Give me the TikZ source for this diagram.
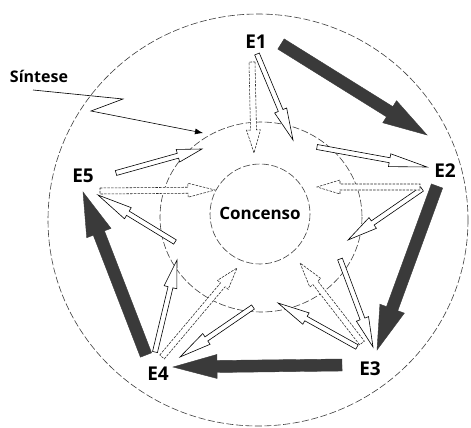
\documentclass[tikz,border=0pt]{standalone}
\usepackage{fontspec}
\setmainfont{Open Sans}
\usetikzlibrary{calc,arrows.meta}
\definecolor{dark}{HTML}{3A3A3A}
\tikzset{
 lbl/.style={font=\bfseries\fontsize{19}{20}\selectfont, inner sep=0pt},
 bigarrow/.style={fill=dark, draw=dark, line width=0.4pt, line join=miter},
 openarrow/.style={fill=white, draw=black, line width=0.6pt},
 dasharrow/.style={fill=white, draw=black!85, line width=0.55pt, dash pattern=on 2.5pt off 1.2pt},
 ring/.style={draw=black!75, line width=0.6pt, dash pattern=on 7pt off 2.5pt},
}
% #1 start, #2 tip, #3 shaft half width, #4 head half width, #5 head length, #6 style
\newcommand{\blockarr}[6]{%
 \coordinate (ba-h) at ($(#2)!#5!(#1)$);
 \draw[#6] ($(#1)!#3!90:(#2)$) -- ($(ba-h)!#3!90:(#2)$) -- ($(ba-h)!#4!90:(#2)$) -- (#2)
   -- ($(ba-h)!#4!-90:(#2)$) -- ($(ba-h)!#3!-90:(#2)$) -- ($(#1)!#3!-90:(#2)$) -- cycle;}
\begin{document}
\begin{tikzpicture}[x=1pt,y=-1pt]
\useasboundingbox[fill=white] (0,0) rectangle (471,428);
% circles
\draw[ring] (258,220) ellipse [x radius=210, y radius=206];
\draw[ring] (261,217) ellipse [x radius=101, y radius=95];
\draw[ring] (260,214) circle [radius=50];
% labels
\node[lbl] (e1) at (256,42) {E1};
\node[lbl] (e2) at (445,171) {E2};
\node[lbl] (e3) at (370,369) {E3};
\node[lbl] (e4) at (158,374) {E4};
\node[lbl] (e5) at (83,176) {E5};
\node[font=\bfseries\fontsize{17}{18}\selectfont, inner sep=0pt] (c) at (260,213) {Concenso};
\node[font=\bfseries\fontsize{16}{18}\selectfont, inner sep=0pt] (s) at (39,76) {Síntese};
% big arrows
\coordinate (b1s) at (281,44); \coordinate (b1e) at (427,135);
\coordinate (b2s) at (437,186); \coordinate (b2e) at (377,350);
\coordinate (b3s) at (342,365); \coordinate (b3e) at (173,367);
\coordinate (b4s) at (146,355); \coordinate (b4e) at (83,192);
\blockarr{b1s}{b1e}{6pt}{13pt}{44pt}{bigarrow}
\blockarr{b2s}{b2e}{6pt}{13pt}{44pt}{bigarrow}
\blockarr{b3s}{b3e}{6pt}{12pt}{44pt}{bigarrow}
\blockarr{b4s}{b4e}{6pt}{13pt}{44pt}{bigarrow}
% open solid arrows
\coordinate (o1s) at (257,54);  \coordinate (o1e) at (293,140);
\coordinate (o2s) at (317,147); \coordinate (o2e) at (427,167);
\coordinate (o3s) at (422,189); \coordinate (o3e) at (348,240);
\coordinate (o4s) at (340,259); \coordinate (o4e) at (373,347);
\coordinate (o5s) at (357,347); \coordinate (o5e) at (278,303);
\coordinate (o6s) at (155,352); \coordinate (o6e) at (177,260);
\coordinate (o7s) at (253,307); \coordinate (o7e) at (180,357);
\coordinate (o8s) at (116,173); \coordinate (o8e) at (202,149);
\coordinate (o9s) at (175,242); \coordinate (o9e) at (98,195);
\blockarr{o1s}{o1e}{2.5pt}{6.5pt}{32pt}{openarrow}
\blockarr{o2s}{o2e}{2.5pt}{6.5pt}{38pt}{openarrow}
\blockarr{o3s}{o3e}{2.5pt}{6.5pt}{30pt}{openarrow}
\blockarr{o4s}{o4e}{2.5pt}{6.5pt}{30pt}{openarrow}
\blockarr{o5s}{o5e}{2.5pt}{6.5pt}{32pt}{openarrow}
\blockarr{o6s}{o6e}{2.5pt}{6.5pt}{28pt}{openarrow}
\blockarr{o7s}{o7e}{2.5pt}{6.5pt}{32pt}{openarrow}
\blockarr{o8s}{o8e}{2.5pt}{6.5pt}{25pt}{openarrow}
\blockarr{o9s}{o9e}{2.5pt}{6.5pt}{35pt}{openarrow}
% dashed open arrows
\coordinate (d1s) at (252,62);  \coordinate (d1e) at (254,153);
\coordinate (d2s) at (420,187); \coordinate (d2e) at (317,187);
\coordinate (d3s) at (362,343); \coordinate (d3e) at (300,263);
\coordinate (d4s) at (162,357); \coordinate (d4e) at (237,268);
\coordinate (d5s) at (100,191); \coordinate (d5e) at (215,190);
\blockarr{d1s}{d1e}{3pt}{7pt}{23pt}{dasharrow}
\blockarr{d2s}{d2e}{3pt}{7pt}{23pt}{dasharrow}
\blockarr{d3s}{d3e}{3pt}{7pt}{25pt}{dasharrow}
\blockarr{d4s}{d4e}{3pt}{7pt}{22pt}{dasharrow}
\blockarr{d5s}{d5e}{3pt}{7pt}{27pt}{dasharrow}
% Sintese pointer
\coordinate (sa) at (33,90); \coordinate (sb) at (123,99);
\coordinate (sc) at (91,111); \coordinate (sd) at (203,133);
\draw[line width=0.6pt, -{Latex[length=8pt,width=6pt]}] (sa) -- (sb) -- (sc) -- (sd);
\end{tikzpicture}
\end{document}
